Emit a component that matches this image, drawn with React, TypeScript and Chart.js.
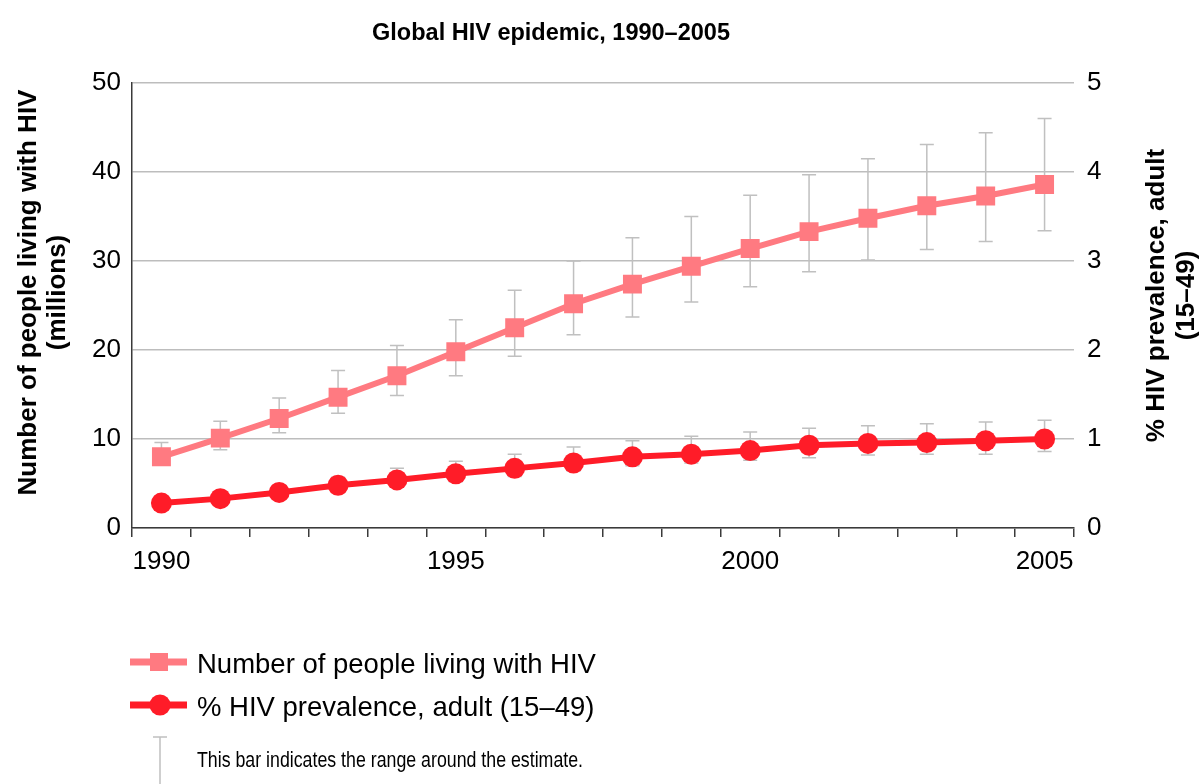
import React, { useEffect, useRef } from 'react';
import { Chart, registerables } from 'chart.js';

Chart.register(...registerables);

// ---------- data ----------
const years = ['1990', '1991', '1992', '1993', '1994', '1995', '1996', '1997', '1998', '1999', '2000', '2001', '2002', '2003', '2004', '2005'];
const shownYearLabels = ['1990', '1995', '2000', '2005'];

const peopleLiving = [8.0, 10.1, 12.3, 14.7, 17.1, 19.8, 22.5, 25.2, 27.4, 29.4, 31.4, 33.3, 34.8, 36.2, 37.3, 38.6];
const peopleLow = [7.2, 8.8, 10.7, 12.9, 14.9, 17.1, 19.3, 21.7, 23.7, 25.4, 27.1, 28.8, 30.1, 31.3, 32.2, 33.4];
const peopleHigh = [9.6, 12.0, 14.6, 17.7, 20.5, 23.4, 26.7, 30.0, 32.6, 35.0, 37.4, 39.7, 41.5, 43.1, 44.4, 46.0];

const prevalence = [0.28, 0.33, 0.40, 0.48, 0.54, 0.61, 0.67, 0.73, 0.80, 0.83, 0.87, 0.93, 0.95, 0.96, 0.98, 1.0];
const prevalenceLow = [0.22, 0.27, 0.33, 0.40, 0.46, 0.52, 0.58, 0.64, 0.70, 0.73, 0.76, 0.79, 0.82, 0.83, 0.83, 0.86];
const prevalenceHigh = [0.36, 0.41, 0.48, 0.57, 0.67, 0.75, 0.83, 0.91, 0.98, 1.03, 1.08, 1.12, 1.15, 1.17, 1.19, 1.21];

const chartTitle = 'Global HIV epidemic, 1990–2005';
const leftAxisTitle = ['Number of people living with HIV', '(millions)'];
const rightAxisTitle = ['% HIV prevalence, adult', '(15–49)'];
const peopleLabel = 'Number of people living with HIV';
const prevalenceLabel = '% HIV prevalence, adult (15–49)';
const rangeNote = 'This bar indicates the range around the estimate.';

// ---------- styles ----------
const FONT = "'Liberation Sans', Arial, sans-serif";
const PINK = '#FF7A81';
const RED = '#FF1C28';
const ERR = '#c0c0c0';
const GRID = '#bdbdbd';
const AXIS = '#3a3a3a';

const decorPlugin = {
  id: 'decor',
  beforeDatasetsDraw(chart: any) {
    const ctx = chart.ctx;
    ctx.save();
    ctx.strokeStyle = ERR;
    ctx.lineWidth = 1.5;
    chart.data.datasets.forEach((ds: any, di: number) => {
      const meta = chart.getDatasetMeta(di);
      const scale = chart.scales[ds.yAxisID];
      meta.data.forEach((pt: any, i: number) => {
        const x = pt.x;
        const yh = scale.getPixelForValue(ds.errorHigh[i]);
        const yl = scale.getPixelForValue(ds.errorLow[i]);
        ctx.beginPath();
        ctx.moveTo(x, yh);
        ctx.lineTo(x, yl);
        ctx.moveTo(x - 7, yh);
        ctx.lineTo(x + 7, yh);
        ctx.moveTo(x - 7, yl);
        ctx.lineTo(x + 7, yl);
        ctx.stroke();
      });
    });
    ctx.restore();
  },
  afterDraw(chart: any) {
    const ctx = chart.ctx;
    const area = chart.chartArea;
    const midY = (area.top + area.bottom) / 2;
    ctx.save();
    ctx.fillStyle = '#000';

    // title
    ctx.font = `bold 23.5px ${FONT}`;
    ctx.textAlign = 'center';
    ctx.textBaseline = 'alphabetic';
    ctx.fillText(chartTitle, 551, 40);

    // axis titles (both read bottom-to-top)
    ctx.font = `bold 26px ${FONT}`;
    const drawRotated = (lines: string[], x: number, y: number, gap: number) => {
      ctx.save();
      ctx.translate(x, y);
      ctx.rotate(-Math.PI / 2);
      lines.forEach((t, i) => ctx.fillText(t, 0, i * gap));
      ctx.restore();
    };
    drawRotated(leftAxisTitle, 36, midY - 13, 29);
    drawRotated(rightAxisTitle, 1164, midY - 10, 30);

    // legend
    const ds0 = chart.data.datasets[0];
    const ds1 = chart.data.datasets[1];
    const lx0 = 130, lx1 = 187, mx = 159;
    ctx.lineWidth = 7;
    ctx.strokeStyle = ds0.borderColor;
    ctx.beginPath();
    ctx.moveTo(lx0, 662);
    ctx.lineTo(lx1, 662);
    ctx.stroke();
    ctx.fillStyle = ds0.backgroundColor;
    ctx.fillRect(mx - 9, 662 - 9, 18, 18);

    ctx.strokeStyle = ds1.borderColor;
    ctx.beginPath();
    ctx.moveTo(lx0, 705);
    ctx.lineTo(lx1, 705);
    ctx.stroke();
    ctx.fillStyle = ds1.backgroundColor;
    ctx.beginPath();
    ctx.arc(mx + 1, 705, 10.5, 0, Math.PI * 2);
    ctx.fill();

    ctx.strokeStyle = ERR;
    ctx.lineWidth = 1.5;
    ctx.beginPath();
    ctx.moveTo(160, 737);
    ctx.lineTo(160, 784);
    ctx.moveTo(153, 737);
    ctx.lineTo(167, 737);
    ctx.stroke();

    ctx.fillStyle = '#000';
    ctx.textAlign = 'left';
    ctx.font = `27.5px ${FONT}`;
    ctx.fillText(ds0.label, 197, 673);
    ctx.fillText(ds1.label, 197, 716);

    // condensed note: same face, squeezed horizontally to the reference width
    ctx.font = `21.5px ${FONT}`;
    const w = ctx.measureText(rangeNote).width;
    const sx = w > 0 ? 386 / w : 1;
    ctx.save();
    ctx.translate(197, 767);
    ctx.scale(sx, 1);
    ctx.fillText(rangeNote, 0, 0);
    ctx.restore();
    ctx.restore();
  },
};

export default function App() {
  const ref = useRef<HTMLCanvasElement | null>(null);

  useEffect(() => {
    if (!ref.current) return;
    const chart = new Chart(ref.current, {
      type: 'line',
      data: {
        labels: years,
        datasets: [
          {
            label: peopleLabel,
            data: peopleLiving,
            errorLow: peopleLow,
            errorHigh: peopleHigh,
            yAxisID: 'y',
            borderColor: PINK,
            backgroundColor: PINK,
            borderWidth: 6,
            pointStyle: 'rect',
            pointRadius: 13.4,
            pointBorderWidth: 0,
            tension: 0,
          } as any,
          {
            label: prevalenceLabel,
            data: prevalence,
            errorLow: prevalenceLow,
            errorHigh: prevalenceHigh,
            yAxisID: 'y1',
            borderColor: RED,
            backgroundColor: RED,
            borderWidth: 6,
            pointStyle: 'circle',
            pointRadius: 10.5,
            pointBorderWidth: 0,
            tension: 0,
          } as any,
        ],
      },
      options: {
        responsive: false,
        animation: false,
        events: [],
        layout: { padding: { top: 83, bottom: 196, left: 0, right: 0 } },
        plugins: {
          legend: { display: false },
          title: { display: false },
          tooltip: { enabled: false },
        },
        scales: {
          x: {
            type: 'category',
            offset: true,
            grid: {
              offset: true,
              drawOnChartArea: false,
              drawTicks: true,
              tickLength: 9,
              color: AXIS,
              lineWidth: 1.5,
            },
            border: { display: true, color: AXIS, width: 1.5 },
            ticks: {
              autoSkip: false,
              maxRotation: 0,
              minRotation: 0,
              padding: 9,
              color: '#000',
              font: { family: FONT, size: 26 },
              callback: (_v: any, i: number) => (shownYearLabels.includes(years[i]) ? years[i] : ''),
            },
            afterFit: (s: any) => {
              s.height = 60;
            },
          },
          y: {
            type: 'linear',
            position: 'left',
            min: 0,
            max: 50,
            ticks: {
              stepSize: 10,
              padding: 11,
              color: '#000',
              font: { family: FONT, size: 26 },
            },
            grid: { color: GRID, lineWidth: 1.5, drawTicks: false, tickLength: 0 },
            border: { display: true, color: AXIS, width: 1.5 },
            afterFit: (s: any) => {
              s.width = 132;
            },
          },
          y1: {
            type: 'linear',
            position: 'right',
            min: 0,
            max: 5,
            ticks: {
              stepSize: 1,
              padding: 13,
              color: '#000',
              font: { family: FONT, size: 26 },
            },
            grid: { display: false, drawOnChartArea: false, drawTicks: false },
            border: { display: false },
            afterFit: (s: any) => {
              s.width = 130;
            },
          },
        },
      } as any,
      plugins: [decorPlugin],
    });
    return () => chart.destroy();
  }, []);

  return (
    <div style={{ position: 'absolute', left: 0, top: 0, width: 1204, height: 784, background: '#fff' }}>
      <canvas ref={ref} width={1204} height={784} style={{ display: 'block' }} />
    </div>
  );
}
